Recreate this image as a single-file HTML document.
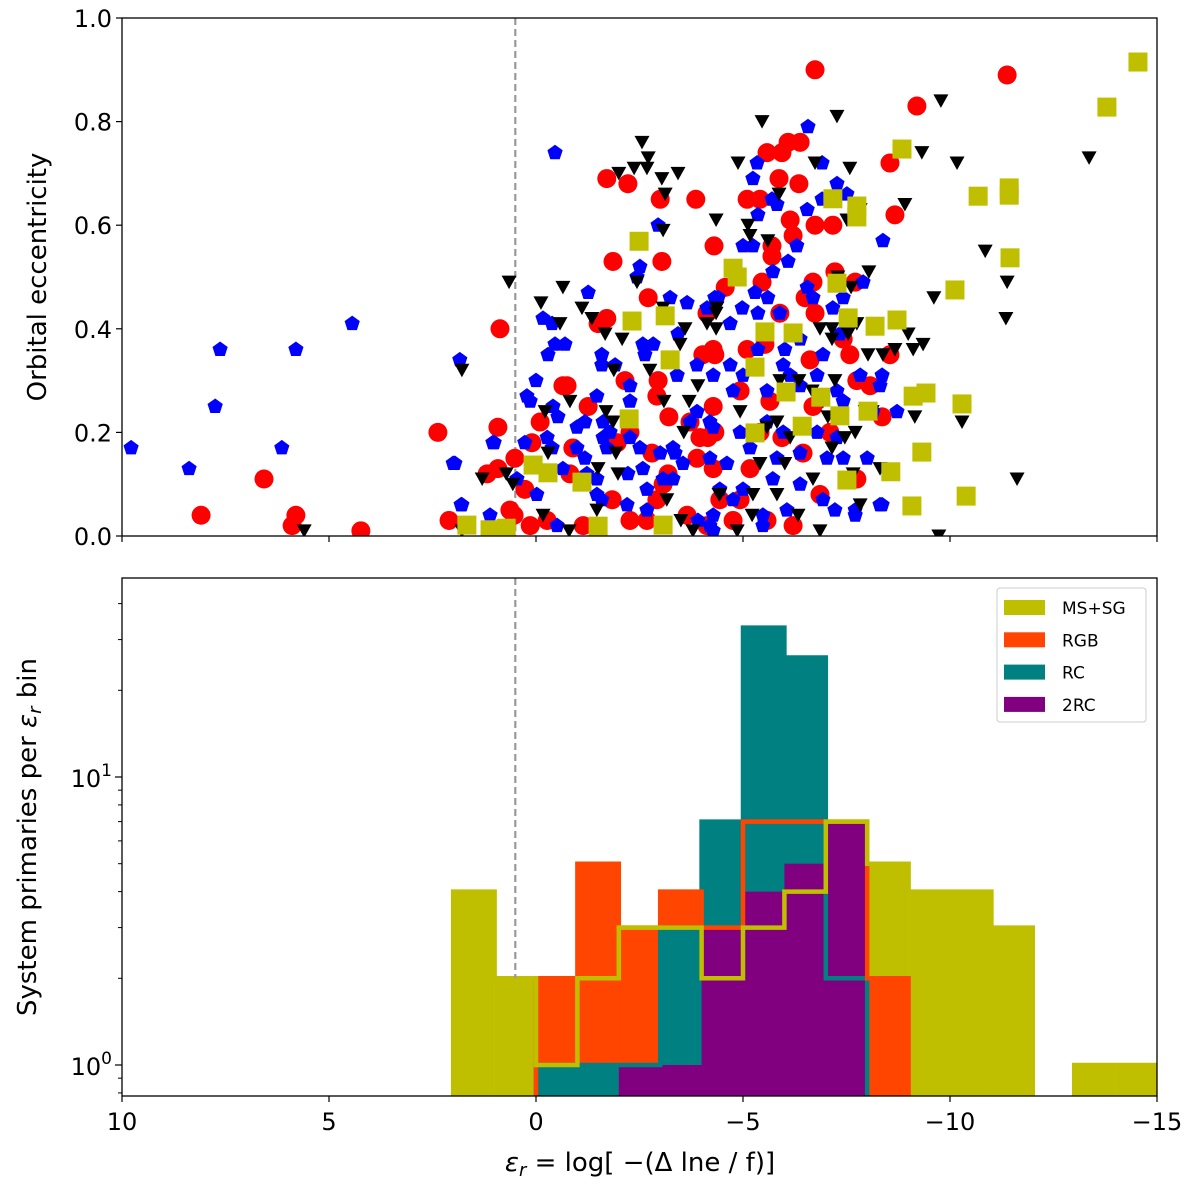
<!DOCTYPE html>
<html><head><meta charset="utf-8">
<style>
html,body{margin:0;padding:0;background:#fff;}
svg{display:block;font-family:"DejaVu Sans","Liberation Sans",sans-serif;}
</style></head>
<body>
<svg id="chart" width="1200" height="1189" viewBox="0 0 1200 1189" xmlns="http://www.w3.org/2000/svg">
  <g id="topPanel"></g>
  <g id="botPanel"></g>
</svg>
<script>
// ---------- scatter data (epsilon_r, eccentricity) ----------
const redX=[8.09,6.57,5.80,5.89,4.23,2.37,2.10,.87,.92,.53,-11.38,-6.74,-9.20,-8.55,-8.67,-1.71,-2.22,-3.00,-3.86,-4.30,-1.86,-3.04,-2.71,-1.71,-1.50,-.65,-.75,-2.15,-2.95,-2.92,-3.21,-4.03,-4.32,-1.26,-.10,.10,-.89,-1.96,-2.27,-2.80,-3.96,-4.32,.51,1.18,.92,.27,-.82,-1.84,-2.92,-3.07,-3.19,-3.89,-4.28,.63,.14,-.27,-1.14,-2.27,-2.68,-3.65,-4.13,-6.09,-6.38,-5.94,-5.58,-5.87,-6.35,-5.10,-5.41,-6.74,-7.17,-6.14,-6.21,-5.70,-5.70,-5.46,-4.57,-6.69,-7.22,-7.71,-4.13,-5.89,-6.50,-6.74,-7.42,-7.58,-8.55,-4.28,-5.10,-5.53,-6.62,-7.75,-8.07,-8.36,-4.28,-4.93,-4.15,-6.69,-5.65,-7.10,-7.75,-6.86,-4.76,-5.58,-6.21,-4.44,-6.45,-5.94,-5.17,-5.41,-4.93,-3.72];
const redY=[.04,.11,.04,.02,.01,.20,.03,.40,.21,.04,.89,.90,.83,.72,.62,.69,.68,.65,.65,.56,.53,.53,.46,.42,.41,.29,.29,.30,.30,.27,.23,.35,.35,.25,.22,.18,.17,.18,.20,.16,.19,.20,.15,.12,.13,.09,.12,.07,.07,.10,.12,.15,.13,.05,.02,.03,.02,.03,.03,.04,.02,.76,.76,.74,.74,.69,.68,.65,.65,.60,.60,.61,.58,.56,.54,.49,.48,.49,.51,.49,.43,.43,.46,.43,.38,.35,.35,.36,.36,.37,.34,.30,.29,.23,.25,.28,.19,.25,.26,.20,.11,.08,.03,.03,.02,.07,.16,.19,.13,.20,.07,.22];
const blueX=[9.78,8.38,7.63,7.75,6.14,5.80,4.44,1.84,1.96,1.81,1.01,-.46,-6.57,-8.38,-8.31,-7.71,-8.36,-2.95,-2.51,-2.44,-1.26,-.17,-.39,-.46,-.70,-.29,-1.59,-1.59,-1.91,-2.58,-2.83,-2.63,-3.24,-3.65,-3.43,-3.41,-3.89,-4.32,0,.22,.14,-1.47,-2.27,-2.27,-.41,-.53,-.99,-1.18,-1.62,-1.79,-1.62,-2.27,.27,1.04,-.27,-.39,-.99,-1.18,-1.23,-1.47,-1.71,-2.51,-3.00,-3.31,-3.55,-3.72,-3.89,-4.20,-2.58,-2.22,-3.07,-3.31,-3.36,-2.68,.46,-.65,-.02,-1.47,-1.59,-2.20,-2.68,-3.91,-4.20,-.51,1.11,1.79,2.00,-5.34,-5.24,-6.91,-5.70,-5.82,-5.36,-6.55,-7.27,-7.51,-6.91,-5.00,-5.24,-6.30,-6.09,-5.72,-5.29,-5.60,-4.40,-4.13,-4.98,-5.36,-5.89,-6.55,-6.69,-7.42,-7.90,-7.17,-4.69,-5.36,-6.01,-6.38,-6.93,-7.34,-7.83,-8.36,-4.69,-4.28,-5.00,-5.97,-6.14,-6.79,-4.76,-5.58,-6.38,-7.27,-7.42,-8.72,-8.14,-4.28,-4.93,-5.58,-5.97,-6.79,-7.27,-4.20,-4.61,-5.17,-5.82,-6.38,-7.03,-7.42,-8.00,-4.44,-5.00,-5.72,-6.38,-6.93,-7.22,-7.71,-8.31,-4.28,-4.76,-5.48,-6.06,-4.28,-5.48];
const blueY=[.17,.13,.36,.25,.17,.36,.41,.34,.14,.06,.18,.74,.79,.57,.29,.04,.06,.60,.52,.50,.47,.42,.41,.37,.37,.35,.35,.33,.33,.37,.37,.35,.46,.45,.39,.31,.33,.46,.30,.27,.26,.27,.29,.26,.25,.23,.21,.22,.22,.20,.19,.19,.18,.18,.19,.17,.17,.15,.12,.11,.17,.17,.16,.17,.14,.22,.24,.22,.13,.12,.11,.11,.16,.09,.11,.13,.08,.08,.07,.06,.05,.03,.02,.02,.04,.06,.14,.72,.69,.72,.65,.64,.62,.63,.68,.66,.65,.56,.56,.56,.53,.51,.47,.46,.46,.44,.44,.43,.43,.48,.46,.46,.49,.44,.41,.36,.36,.38,.35,.39,.31,.31,.33,.31,.31,.33,.31,.31,.28,.28,.29,.28,.26,.24,.24,.21,.20,.22,.20,.20,.19,.15,.14,.17,.15,.16,.15,.15,.15,.09,.09,.11,.10,.07,.05,.05,.06,.04,.07,.04,.05,.01,.02];
const blackX=[5.60,1.79,.65,-9.78,-10.17,-10.85,-11.38,-9.61,-11.35,-13.36,-9.11,-10.29,-11.62,-9.73,-2.56,-2.71,-2.00,-2.37,-2.68,-3.04,-3.43,-3.12,-4.35,-3.07,-.65,-2.44,-.12,-1.11,-1.35,-.58,-1.67,-2.08,-3.48,-3.60,-4.35,-4.13,-4.35,-3.07,-1.88,-2.75,-3.91,-.82,-.22,-1.69,-1.86,-3.09,-3.70,-3.57,-.29,-1.93,-1.50,-1.98,-.17,.72,1.30,.56,-3.16,-4.42,-.17,-1.47,-3.50,1.79,.82,-.80,-3.79,-5.46,-7.27,-4.88,-6.74,-7.58,-9.32,-5.87,-7.83,-7.51,-8.91,-5.12,-5.17,-5.60,-7.29,-7.61,-8.04,-4.37,-6.86,-7.15,-7.15,-7.54,-7.75,-8.99,-9.35,-8.02,-8.38,-8.67,-5.89,-6.35,-7.22,-6.67,-4.93,-6.93,-7.05,-7.39,-7.95,-8.12,-9.15,-5.58,-5.82,-6.14,-7.46,-7.71,-7.15,-5.41,-6.01,-8.31,-7.66,-6.69,-4.44,-5.24,-5.82,-7.83,-5.22,-6.33,-4.86,-6.86];
const blackY=[.01,.32,.49,.84,.72,.55,.49,.46,.42,.73,.36,.22,.11,.00,.76,.73,.70,.71,.71,.69,.70,.66,.61,.59,.48,.49,.45,.44,.42,.41,.39,.38,.37,.40,.43,.41,.40,.44,.32,.32,.29,.26,.24,.24,.22,.26,.26,.20,.16,.16,.13,.12,.12,.12,.11,.10,.07,.08,.04,.05,.03,.01,.01,.01,.01,.80,.81,.72,.72,.71,.74,.66,.63,.61,.64,.60,.58,.57,.50,.48,.51,.44,.40,.40,.38,.39,.41,.39,.37,.35,.35,.36,.30,.30,.30,.28,.24,.26,.23,.23,.24,.24,.23,.21,.22,.19,.19,.20,.17,.14,.14,.13,.12,.11,.08,.08,.08,.06,.04,.04,.01,.01];
const oliveX=[-14.54,-13.79,-8.84,-7.17,-7.75,-7.75,-10.68,-11.43,-11.43,-11.45,-10.12,-4.76,-4.86,-2.49,-7.27,-7.54,-8.19,-8.72,-5.53,-6.21,-2.32,-3.12,-3.24,-5.29,-6.04,-6.88,-7.34,-8.02,-9.11,-9.42,-6.43,-5.29,-2.25,-10.29,-9.32,-7.51,-8.57,-10.39,-9.08,.07,-.29,-1.11,1.67,1.11,.72,-1.50,-3.07];
const oliveY=[.915,.828,.747,.651,.637,.616,.656,.658,.672,.537,.475,.517,.50,.569,.488,.421,.405,.417,.394,.392,.415,.425,.34,.326,.278,.268,.232,.241,.27,.276,.212,.199,.226,.255,.162,.108,.124,.077,.058,.137,.122,.104,.021,.012,.015,.019,.021];

// ---------- histogram data (bins of width 1, starting at given epsilon, descending) ----------
const msStart=2,   msCounts=[4,2,1,2,3,3,2,3,4,7,5,4,4,3,0,1,1];
const rgbStart=0,  rgbCounts=[2,5,3,4,3,7,7,7,2];
const rcStart=0,   rcCounts=[1,1,1,3,7,33,26,2];
const rc2Start=-2, rc2Counts=[1,1,3,4,5,7];
const xTicks=[10,5,0,-5,-10,-15];
const eTicks=[0,0.2,0.4,0.6,0.8,1.0];
const vlineEps=0.5;

const NS="http://www.w3.org/2000/svg";
function mk(tag,attrs,parent,txt){const e=document.createElementNS(NS,tag);for(const k in attrs)e.setAttribute(k,attrs[k]);if(txt!==undefined)e.textContent=txt;parent.appendChild(e);return e;}
const L=122,R=1157;
const xs=v=>L+(10-v)*(R-L)/25;
const T1=18,B1=536; const ys1=v=>B1-v*(B1-T1);
const T2=578,B2=1096; const Y1=1065,DEC=288; const ys2=v=>Y1-Math.log10(v)*DEC;
const topG=document.getElementById('topPanel'), botG=document.getElementById('botPanel');

const defs=mk('defs',{},document.getElementById('chart'));
const c1=mk('clipPath',{id:'c1'},defs);mk('rect',{x:L,y:T1,width:R-L,height:B1-T1},c1);
const c2=mk('clipPath',{id:'c2'},defs);mk('rect',{x:L,y:T2,width:R-L,height:B2-T2},c2);

// ---- top panel ----
const g1=mk('g',{'clip-path':'url(#c1)'},topG);
let dl=mk('line',{x1:xs(vlineEps),x2:xs(vlineEps),y1:T1,y2:B1,stroke:'#999','stroke-width':2.2,'stroke-dasharray':'7,4'},g1);


for(let i=0;i<redX.length;i++){
  const c=mk('circle',{cx:xs(redX[i]),cy:ys1(redY[i]),r:9.5,fill:'#ff0000'},g1);
  
  
}
function pent(cx,cy,r){let p=[];for(let k=0;k<5;k++){const a=-Math.PI/2+k*2*Math.PI/5;p.push((cx+r*Math.cos(a)).toFixed(1)+','+(cy+r*Math.sin(a)).toFixed(1));}return p.join(' ');}
for(let i=0;i<blueX.length;i++){
  const p=mk('polygon',{points:pent(xs(blueX[i]),ys1(blueY[i]),8),fill:'#0000ff'},g1);
  
  
}
for(let i=0;i<blackX.length;i++){
  const x=xs(blackX[i]),y=ys1(blackY[i]);
  const p=mk('polygon',{points:`${x-7.5},${y-6.5} ${x+7.5},${y-6.5} ${x},${y+7}`,fill:'#000'},g1);
  
  
}
for(let i=0;i<oliveX.length;i++){
  const q=mk('rect',{x:xs(oliveX[i])-9.5,y:ys1(oliveY[i])-9.5,width:19,height:19,fill:'#bfbf00'},g1);
  
  
}
mk('rect',{x:L,y:T1,width:R-L,height:B1-T1,fill:'none',stroke:'#000','stroke-width':1.3},topG);
for(const t of eTicks){
  mk('line',{x1:L-6,x2:L,y1:ys1(t),y2:ys1(t),stroke:'#000','stroke-width':1.2},topG);
  const tl=mk('text',{x:L-10,y:ys1(t)+9,'text-anchor':'end','font-size':24},topG,t.toFixed(1));
  
  
}
for(const t of xTicks){mk('line',{x1:xs(t),x2:xs(t),y1:B1,y2:B1+6,stroke:'#000','stroke-width':1.2},topG);}
const yl1=mk('text',{x:46,y:(T1+B1)/2,'text-anchor':'middle','font-size':26,transform:`rotate(-90 46 ${(T1+B1)/2})`},topG,'Orbital eccentricity');



// ---- bottom panel ----
const g2=mk('g',{'clip-path':'url(#c2)'},botG);
function fillHist(start,counts,color,name){
  counts.forEach((c,i)=>{ if(c<=0)return;
    const x0=xs(start-i),x1=xs(start-i-1);
    const r=mk('rect',{x:x0,y:ys2(c),width:x1-x0+0.3,height:B2+5-ys2(c),fill:color},g2);
    
    
  });
}
function stepHist(start,counts,color,name){
  let d='';const n=counts.length;
  counts.forEach((c,i)=>{
    const x0=xs(start-i),x1=xs(start-i-1),y=c>0?ys2(c):B2+10;
    d+=(i===0?`M${x0},${B2+10}L${x0},${y}`:`L${x0},${y}`)+`L${x1},${y}`;
  });
  d+=`L${xs(start-n)},${B2+10}`;
  const p=mk('path',{d:d,fill:'none',stroke:color,'stroke-width':4.5},g2);
  
  
}
fillHist(msStart,msCounts,'#bfbf00','ms-sg');
fillHist(rgbStart,rgbCounts,'#ff4500','rgb');
fillHist(rcStart,rcCounts,'#008080','rc');
fillHist(rc2Start,rc2Counts,'#800080','2rc');
stepHist(rcStart,rcCounts,'#008080','rc');
stepHist(rgbStart,rgbCounts,'#ff4500','rgb');
stepHist(msStart,msCounts,'#bfbf00','ms-sg');
let dl2=mk('line',{x1:xs(vlineEps),x2:xs(vlineEps),y1:T2,y2:ys2(2),stroke:'#999','stroke-width':2.2,'stroke-dasharray':'7,4'},g2);


mk('rect',{x:L,y:T2,width:R-L,height:B2-T2,fill:'none',stroke:'#000','stroke-width':1.3},botG);
for(const t of xTicks){
  mk('line',{x1:xs(t),x2:xs(t),y1:B2,y2:B2+6,stroke:'#000','stroke-width':1.2},botG);
  const tl=mk('text',{x:xs(t),y:B2+34,'text-anchor':'middle','font-size':24},botG,t<0?'\u2212'+(-t):String(t));
  
  
}
[1,10].forEach(v=>{
  mk('line',{x1:L-7,x2:L,y1:ys2(v),y2:ys2(v),stroke:'#000','stroke-width':1.2},botG);
  const t=mk('text',{x:L-10,y:ys2(v)+10,'text-anchor':'end','font-size':24},botG);
  
  
  mk('tspan',{},t,'10');
  mk('tspan',{dy:-11,'font-size':17},t,v===1?'0':'1');
});
[0.8,0.9,2,3,4,5,6,7,8,9,20,30,40].forEach(v=>{const y=ys2(v);if(y>T2&&y<B2)mk('line',{x1:L-4,x2:L,y1:y,y2:y,stroke:'#000','stroke-width':1},botG);});
const yl2=mk('text',{x:36,y:(T2+B2)/2,'text-anchor':'middle','font-size':26,transform:`rotate(-90 36 ${(T2+B2)/2})`},botG);


mk('tspan',{},yl2,'System primaries per ');
mk('tspan',{'font-style':'italic'},yl2,'ε');
mk('tspan',{'font-style':'italic','font-size':18,dy:5},yl2,'r');
mk('tspan',{dy:-5},yl2,' bin');
const xl=mk('text',{x:640,y:1171,'text-anchor':'middle','font-size':26},botG);


mk('tspan',{'font-style':'italic'},xl,'ε');
mk('tspan',{'font-style':'italic','font-size':18,dy:5},xl,'r');
mk('tspan',{dy:-5},xl,' = log[ \u2212(Δ lne / f)]');

// legend
const lg=mk('g',{},botG);


mk('rect',{x:997,y:588,width:149,height:134,rx:3,fill:'#fff',stroke:'#ccc','stroke-width':1},lg);
const legNames=['MS+SG','RGB','RC','2RC'],legCols=['#bfbf00','#ff4500','#008080','#800080'];
legNames.forEach((n,i)=>{
  const y=600+i*32.3;
  const r=mk('rect',{x:1004,y:y,width:41,height:15,fill:legCols[i]},lg);
  
  
  const t=mk('text',{x:1062,y:y+14,'font-size':17},lg,n);
  
  
});
</script>
</body></html>
